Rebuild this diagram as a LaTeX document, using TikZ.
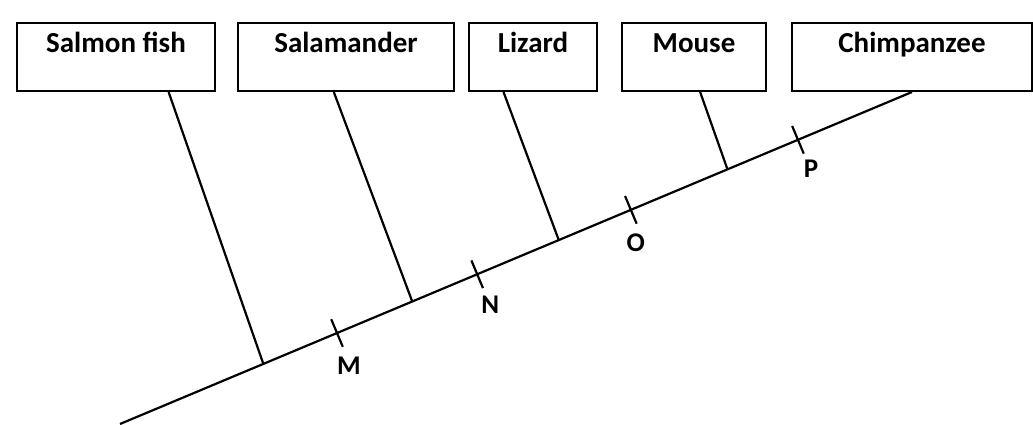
\documentclass[tikz,border=0pt]{standalone}
\usepackage{fontspec}
\setmainfont{Carlito}
\usetikzlibrary{calc}
\begin{document}
\begin{tikzpicture}[x=1pt,y=-1pt,line width=2.2pt,
  box/.style={draw,rectangle,line width=2pt,inner xsep=0pt,inner ysep=0pt,text height=30pt,text depth=38pt,
    font=\bfseries\fontsize{29}{31}\selectfont,anchor=north west},
  lbl/.style={font=\bfseries\fontsize{27}{29}\selectfont,inner sep=0pt},
  tickmark/.style={line width=2.2pt}]
\useasboundingbox (0,0) rectangle (1033,425);
\node[box,minimum width=198pt] (salmon) at (16,22) {Salmon fish};
\node[box,minimum width=216pt] (salamander) at (237,22) {Salamander};
\node[box,minimum width=128pt] (lizard) at (468,22) {Lizard};
\node[box,minimum width=144pt] (mouse) at (621,22) {Mouse};
\node[box,minimum width=240pt] (chimp) at (791,22) {Chimpanzee};
\coordinate (root) at (120,424);
\draw (root) -- (chimp.south);
% junctions
\coordinate (jS) at ($(root)!0.181!(chimp.south)$);
\coordinate (jA) at ($(root)!0.369!(chimp.south)$);
\coordinate (jL) at ($(root)!0.554!(chimp.south)$);
\coordinate (jU) at ($(root)!0.767!(chimp.south)$);
\draw ($(salmon.south west)!0.763!(salmon.south east)$) -- (jS);
\draw ($(salamander.south west)!0.444!(salamander.south east)$) -- (jA);
\draw ($(lizard.south west)!0.273!(lizard.south east)$) -- (jL);
\draw ($(mouse.south west)!0.542!(mouse.south east)$) -- (jU);
% ticks
\coordinate (tM) at ($(root)!0.274!(chimp.south)$);
\coordinate (tN) at ($(root)!0.451!(chimp.south)$);
\coordinate (tO) at ($(root)!0.645!(chimp.south)$);
\coordinate (tP) at ($(root)!0.856!(chimp.south)$);
\foreach \t in {tM,tN,tO,tP}{
  \draw[tickmark] ($(\t)!15pt!90:(chimp.south)$) -- ($(\t)!15pt!-90:(chimp.south)$);
}
\node[lbl] (M) at ($(tM)+(12,33)$) {M};
\node[lbl] (N) at ($(tN)+(13,30)$) {N};
\node[lbl] (O) at ($(tO)+(5,33)$) {O};
\node[lbl] (P) at ($(tP)+(13,29)$) {P};
\end{tikzpicture}
\end{document}
